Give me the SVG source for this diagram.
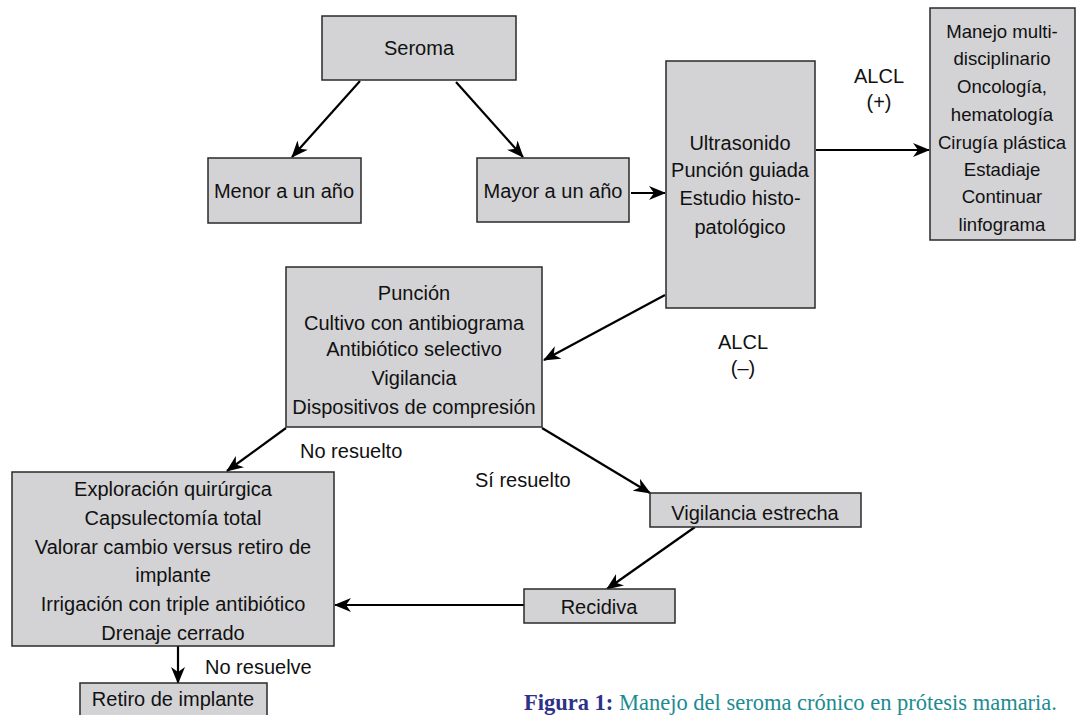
<svg xmlns="http://www.w3.org/2000/svg" width="1086" height="715" viewBox="0 0 1086 715">
<style>
.box{fill:#d3d3d5;stroke:#2a2a2a;stroke-width:1.5}
.t{font-family:"Liberation Sans",Arial,sans-serif;font-size:20px;fill:#111;text-anchor:middle}
.s{font-size:18.6px}
.lbl{font-family:"Liberation Sans",Arial,sans-serif;font-size:20px;fill:#111}
.c{stroke:#000;stroke-width:2.2;fill:none;marker-end:url(#ah)}
.cap{font-family:"Liberation Serif","Times New Roman",serif;font-size:22.5px}
</style>
<defs>
<marker id="ah" markerUnits="userSpaceOnUse" markerWidth="18" markerHeight="14" refX="16" refY="7" orient="auto">
<path d="M0,0 L17,7 L0,14 L5,7 z" fill="#000"/>
</marker>
</defs>
<rect width="1086" height="715" fill="#fff"/>

<g id="connectors">
<line class="c" x1="360" y1="81" x2="292" y2="157"/>
<line class="c" x1="456" y1="82" x2="523" y2="157"/>
<line class="c" x1="631" y1="193" x2="665" y2="193"/>
<line class="c" x1="816" y1="150" x2="929" y2="150"/>
<line class="c" x1="665" y1="295" x2="544" y2="360"/>
<line class="c" x1="286" y1="428" x2="227" y2="471"/>
<line class="c" x1="542" y1="428" x2="650" y2="493"/>
<line class="c" x1="695" y1="527" x2="607" y2="589"/>
<line class="c" x1="524" y1="605" x2="335" y2="605"/>
<line class="c" x1="178" y1="646" x2="178" y2="683"/>
</g>

<g id="labels">
<text class="t" x="879" y="83">ALCL</text>
<text class="t" x="879" y="109">(+)</text>
<text class="t" x="743" y="349">ALCL</text>
<text class="t" x="743" y="375">(–)</text>
<text class="lbl" x="300" y="458">No resuelto</text>
<text class="lbl" x="475" y="487">Sí resuelto</text>
<text class="lbl" x="205" y="674">No resuelve</text>
</g>

<g id="seroma">
<rect class="box" x="322" y="16" width="194" height="64"/>
<text class="t" x="419" y="55">Seroma</text>
</g>

<g id="menor">
<rect class="box" x="208" y="158" width="153" height="65"/>
<text class="t" x="284" y="198">Menor a un año</text>
</g>

<g id="mayor">
<rect class="box" x="477" y="158" width="152" height="64"/>
<text class="t" x="553" y="198">Mayor a un año</text>
</g>

<g id="ultrasonido">
<rect class="box" x="666" y="61" width="149" height="247"/>
<text class="t" x="740" y="150">Ultrasonido</text>
<text class="t" x="740" y="177">Punción guiada</text>
<text class="t" x="740" y="205">Estudio histo-</text>
<text class="t" x="740" y="234">patológico</text>
</g>

<g id="manejo">
<rect class="box" x="930" y="8" width="145" height="232"/>
<text class="t s" x="1002" y="38">Manejo multi-</text>
<text class="t s" x="1002" y="65">disciplinario</text>
<text class="t s" x="1002" y="93">Oncología,</text>
<text class="t s" x="1002" y="121">hematología</text>
<text class="t s" x="1002" y="149">Cirugía plástica</text>
<text class="t s" x="1002" y="176">Estadiaje</text>
<text class="t s" x="1002" y="203">Continuar</text>
<text class="t s" x="1002" y="231">linfograma</text>
</g>

<g id="puncion">
<rect class="box" x="286" y="267" width="256" height="160"/>
<text class="t" x="414" y="300">Punción</text>
<text class="t" x="414" y="330">Cultivo con antibiograma</text>
<text class="t" x="414" y="356">Antibiótico selectivo</text>
<text class="t" x="414" y="385">Vigilancia</text>
<text class="t" x="414" y="414">Dispositivos de compresión</text>
</g>

<g id="exploracion">
<rect class="box" x="12" y="472" width="322" height="174"/>
<text class="t" x="173" y="496">Exploración quirúrgica</text>
<text class="t" x="173" y="525">Capsulectomía total</text>
<text class="t" x="173" y="554">Valorar cambio versus retiro de</text>
<text class="t" x="173" y="582">implante</text>
<text class="t" x="173" y="611">Irrigación con triple antibiótico</text>
<text class="t" x="173" y="640">Drenaje cerrado</text>
</g>

<g id="vigilancia">
<rect class="box" x="650" y="493" width="211" height="34"/>
<text class="t" x="755" y="520">Vigilancia estrecha</text>
</g>

<g id="recidiva">
<rect class="box" x="524" y="589" width="151" height="34"/>
<text class="t" x="599" y="614">Recidiva</text>
</g>

<g id="retiro">
<rect class="box" x="80" y="683" width="187" height="50"/>
<text class="t" x="173" y="706">Retiro de implante</text>
</g>

<text class="cap" x="524" y="710"><tspan font-weight="bold" fill="#2e3188">Figura 1:</tspan><tspan fill="#1c8b90"> Manejo del seroma crónico en prótesis mamaria.</tspan></text>
</svg>
